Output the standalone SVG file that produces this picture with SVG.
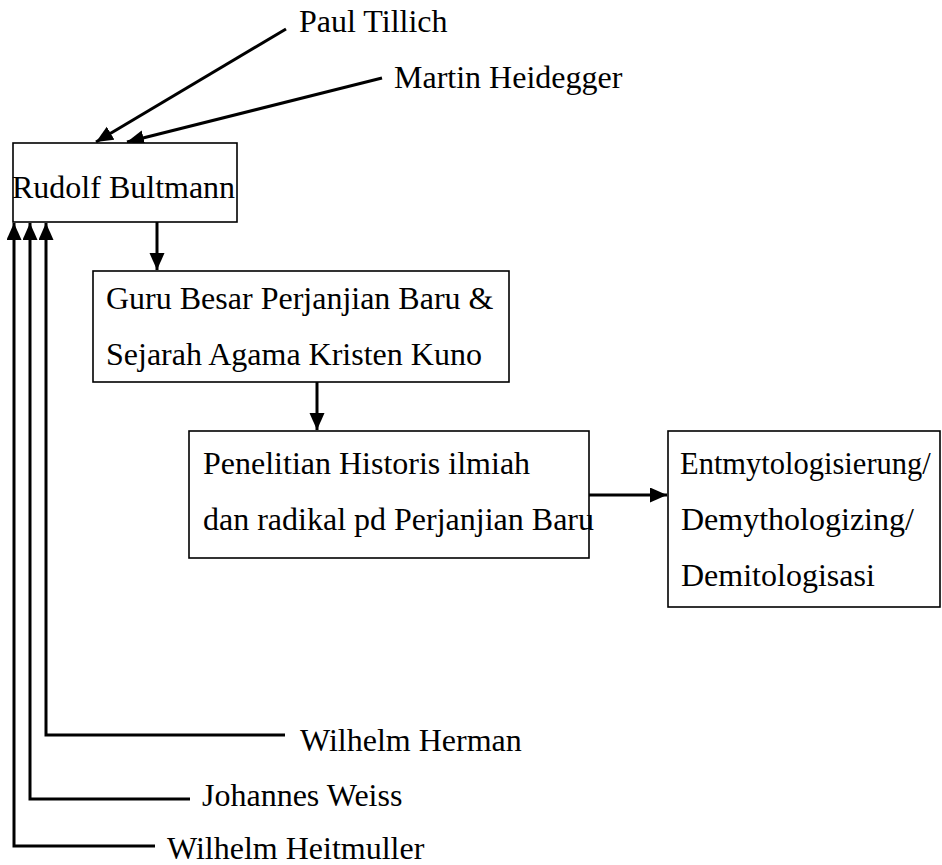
<svg xmlns="http://www.w3.org/2000/svg" width="942" height="865" viewBox="0 0 942 865">
<defs>
<style>
text { font-family: "Liberation Serif", "Times New Roman", serif; font-size: 32px; fill: #000; }
.box { fill: #fff; stroke: #000; stroke-width: 1.6; }
.conn { fill: none; stroke: #000; stroke-width: 3; }
.arr { marker-end: url(#ah); }
</style>
<marker id="ah" markerUnits="userSpaceOnUse" markerWidth="18" markerHeight="16" refX="17" refY="7.5" orient="auto">
<path d="M0,0 L17,7.5 L0,15 z" fill="#000"/>
</marker>
</defs>
<rect width="942" height="865" fill="#fff"/>
<g id="connectors">
<line class="conn arr" x1="286" y1="29" x2="96" y2="142"/>
<line class="conn arr" x1="382" y1="78" x2="127" y2="142"/>
<line class="conn arr" x1="157" y1="222" x2="157" y2="270"/>
<line class="conn arr" x1="317" y1="382" x2="317" y2="430"/>
<line class="conn arr" x1="589" y1="495" x2="667" y2="495"/>
<polyline class="conn arr" points="285,735 46,735 46,223"/>
<polyline class="conn arr" points="190,799 30,799 30,223"/>
<polyline class="conn arr" points="155,846 14,846 14,223"/>
</g>
<g id="paul-tillich"><text x="299" y="32">Paul Tillich</text></g>
<g id="martin-heidegger"><text x="394" y="88">Martin Heidegger</text></g>
<g id="rudolf-bultmann">
<rect class="box" x="13" y="143" width="224" height="79"/>
<text x="12" y="198">Rudolf Bultmann</text>
</g>
<g id="guru-besar">
<rect class="box" x="93" y="271" width="416" height="111"/>
<text x="106" y="309">Guru Besar Perjanjian Baru &amp;</text>
<text x="106" y="365">Sejarah Agama Kristen Kuno</text>
</g>
<g id="penelitian">
<rect class="box" x="189" y="431" width="400" height="127"/>
<text x="203" y="474">Penelitian Historis ilmiah</text>
<text x="203" y="530">dan radikal pd Perjanjian Baru</text>
</g>
<g id="entmytologisierung">
<rect class="box" x="668" y="431" width="272" height="176"/>
<text x="680" y="474" style="font-size:30.5px">Entmytologisierung/</text>
<text x="681" y="530">Demythologizing/</text>
<text x="681" y="586">Demitologisasi</text>
</g>
<g id="wilhelm-herman"><text x="300" y="751">Wilhelm Herman</text></g>
<g id="johannes-weiss"><text x="202" y="806">Johannes Weiss</text></g>
<g id="wilhelm-heitmuller"><text x="167" y="859">Wilhelm Heitmuller</text></g>
</svg>
